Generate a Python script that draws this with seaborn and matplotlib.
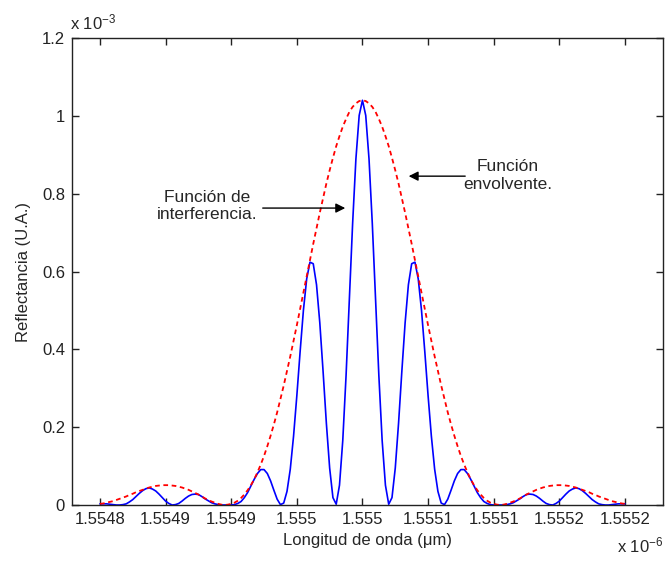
import matplotlib
matplotlib.use('Agg')
import matplotlib.pyplot as plt
import seaborn as sns

# wavelength samples (x 1e-6 m)
wavelength = [
    1.5548000, 1.5548025, 1.5548050, 1.5548075, 1.5548100, 1.5548125, 1.5548150, 1.5548175,
    1.5548200, 1.5548225, 1.5548250, 1.5548275, 1.5548300, 1.5548325, 1.5548350, 1.5548375,
    1.5548400, 1.5548425, 1.5548450, 1.5548475, 1.5548500, 1.5548525, 1.5548550, 1.5548575,
    1.5548600, 1.5548625, 1.5548650, 1.5548675, 1.5548700, 1.5548725, 1.5548750, 1.5548775,
    1.5548800, 1.5548825, 1.5548850, 1.5548875, 1.5548900, 1.5548925, 1.5548950, 1.5548975,
    1.5549000, 1.5549025, 1.5549050, 1.5549075, 1.5549100, 1.5549125, 1.5549150, 1.5549175,
    1.5549200, 1.5549225, 1.5549250, 1.5549275, 1.5549300, 1.5549325, 1.5549350, 1.5549375,
    1.5549400, 1.5549425, 1.5549450, 1.5549475, 1.5549500, 1.5549525, 1.5549550, 1.5549575,
    1.5549600, 1.5549625, 1.5549650, 1.5549675, 1.5549700, 1.5549725, 1.5549750, 1.5549775,
    1.5549800, 1.5549825, 1.5549850, 1.5549875, 1.5549900, 1.5549925, 1.5549950, 1.5549975,
    1.5550000,
    1.5550025, 1.5550050, 1.5550075, 1.5550100, 1.5550125, 1.5550150, 1.5550175, 1.5550200,
    1.5550225, 1.5550250, 1.5550275, 1.5550300, 1.5550325, 1.5550350, 1.5550375, 1.5550400,
    1.5550425, 1.5550450, 1.5550475, 1.5550500, 1.5550525, 1.5550550, 1.5550575, 1.5550600,
    1.5550625, 1.5550650, 1.5550675, 1.5550700, 1.5550725, 1.5550750, 1.5550775, 1.5550800,
    1.5550825, 1.5550850, 1.5550875, 1.5550900, 1.5550925, 1.5550950, 1.5550975, 1.5551000,
    1.5551025, 1.5551050, 1.5551075, 1.5551100, 1.5551125, 1.5551150, 1.5551175, 1.5551200,
    1.5551225, 1.5551250, 1.5551275, 1.5551300, 1.5551325, 1.5551350, 1.5551375, 1.5551400,
    1.5551425, 1.5551450, 1.5551475, 1.5551500, 1.5551525, 1.5551550, 1.5551575, 1.5551600,
    1.5551625, 1.5551650, 1.5551675, 1.5551700, 1.5551725, 1.5551750, 1.5551775, 1.5551800,
    1.5551825, 1.5551850, 1.5551875, 1.5551900, 1.5551925, 1.5551950, 1.5551975, 1.5552000,
]

# interference reflectance (x 1e-3)
interferencia = [
    0.003, 0.003, 0.003, 0.002, 0.001, 0.000, 0.000, 0.001,
    0.003, 0.008, 0.014, 0.022, 0.030, 0.037, 0.042, 0.044,
    0.041, 0.036, 0.028, 0.019, 0.010, 0.004, 0.000, 0.001,
    0.004, 0.010, 0.017, 0.023, 0.027, 0.028, 0.027, 0.022,
    0.016, 0.011, 0.006, 0.003, 0.001, 0.000, 0.000, 0.000,
    0.000, 0.001, 0.004, 0.009, 0.019, 0.032, 0.049, 0.066,
    0.081, 0.091, 0.091, 0.081, 0.062, 0.038, 0.015, 0.001,
    0.005, 0.035, 0.092, 0.177, 0.281, 0.394, 0.500, 0.581,
    0.624, 0.620, 0.566, 0.468, 0.343, 0.210, 0.095, 0.019,
    0.002, 0.051, 0.166, 0.332, 0.527, 0.723, 0.889, 1.001,
    1.040,
    1.001, 0.889, 0.723, 0.527, 0.332, 0.166, 0.051, 0.002,
    0.019, 0.095, 0.210, 0.343, 0.468, 0.566, 0.620, 0.624,
    0.581, 0.500, 0.394, 0.281, 0.177, 0.092, 0.035, 0.005,
    0.001, 0.015, 0.038, 0.062, 0.081, 0.091, 0.091, 0.081,
    0.066, 0.049, 0.032, 0.019, 0.009, 0.004, 0.001, 0.000,
    0.000, 0.000, 0.000, 0.001, 0.003, 0.006, 0.011, 0.016,
    0.022, 0.027, 0.028, 0.027, 0.023, 0.017, 0.010, 0.004,
    0.001, 0.000, 0.004, 0.010, 0.019, 0.028, 0.036, 0.041,
    0.044, 0.042, 0.037, 0.030, 0.022, 0.014, 0.008, 0.003,
    0.001, 0.000, 0.000, 0.001, 0.002, 0.003, 0.003, 0.003,
]

# envelope (x 1e-3)
envolvente = [
    0.003, 0.004, 0.006, 0.008, 0.010, 0.013, 0.016, 0.019,
    0.022, 0.026, 0.029, 0.033, 0.036, 0.039, 0.042, 0.045,
    0.047, 0.049, 0.050, 0.051, 0.051, 0.051, 0.050, 0.049,
    0.047, 0.045, 0.042, 0.039, 0.035, 0.031, 0.027, 0.022,
    0.017, 0.013, 0.009, 0.006, 0.003, 0.001, 0.000, 0.001,
    0.003, 0.006, 0.011, 0.018, 0.027, 0.038, 0.051, 0.066,
    0.084, 0.104, 0.126, 0.151, 0.178, 0.207, 0.238, 0.272,
    0.307, 0.344, 0.382, 0.422, 0.462, 0.504, 0.545, 0.587,
    0.629, 0.671, 0.711, 0.751, 0.789, 0.826, 0.860, 0.892,
    0.922, 0.948, 0.972, 0.992, 1.010, 1.023, 1.032, 1.038,
    1.040,
    1.038, 1.032, 1.023, 1.010, 0.992, 0.972, 0.948, 0.922,
    0.892, 0.860, 0.826, 0.789, 0.751, 0.711, 0.671, 0.629,
    0.587, 0.545, 0.504, 0.462, 0.422, 0.382, 0.344, 0.307,
    0.272, 0.238, 0.207, 0.178, 0.151, 0.126, 0.104, 0.084,
    0.066, 0.051, 0.038, 0.027, 0.018, 0.011, 0.006, 0.003,
    0.001, 0.000, 0.001, 0.003, 0.006, 0.009, 0.013, 0.017,
    0.022, 0.027, 0.031, 0.035, 0.039, 0.042, 0.045, 0.047,
    0.049, 0.050, 0.051, 0.051, 0.051, 0.050, 0.049, 0.047,
    0.045, 0.042, 0.039, 0.036, 0.033, 0.029, 0.026, 0.022,
    0.019, 0.016, 0.013, 0.010, 0.008, 0.006, 0.004, 0.003,
]

x_ticks = [1.55480, 1.55485, 1.55490, 1.55495, 1.55500, 1.55505, 1.55510, 1.55515, 1.55520]
x_ticklabels = ['1.5548', '1.5549', '1.5549', '1.555', '1.555', '1.5551', '1.5551', '1.5552', '1.5552']
y_ticks = [0, 0.2, 0.4, 0.6, 0.8, 1.0, 1.2]
y_ticklabels = ['0', '0.2', '0.4', '0.6', '0.8', '1', '1.2']

sns.set_style('ticks')
plt.rcParams['font.family'] = ['Liberation Sans', 'DejaVu Sans']
plt.rcParams['mathtext.default'] = 'regular'

fig = plt.figure(figsize=(6.65, 5.63), dpi=100)
ax = fig.add_axes([0.1083, 0.1030, 0.8887, 0.8295])

sns.lineplot(x=wavelength, y=interferencia, ax=ax, color='#0000ff', linewidth=1.2)
sns.lineplot(x=wavelength, y=envolvente, ax=ax, color='#ff0000', linewidth=1.3,
             linestyle=(0, (2.6, 2.0)))

ax.set_xlim(1.5547787, 1.5552290)
ax.set_ylim(0, 1.2)
ax.set_xticks(x_ticks)
ax.set_xticklabels(x_ticklabels)
ax.set_yticks(y_ticks)
ax.set_yticklabels(y_ticklabels)
ax.tick_params(direction='in', top=True, right=True, length=5, width=1,
               labelsize=12, pad=5, colors='#222222')
for s in ax.spines.values():
    s.set_linewidth(1.0)
    s.set_color('#222222')

ax.set_xlabel('Longitud de onda (μm)', fontsize=12)
ax.set_ylabel('Reflectancia (U.A.)', fontsize=12)
ax.xaxis.set_label_coords(0.5, -0.060)
ax.yaxis.set_label_coords(-0.070, 0.5)

fig.text(0.106, 0.948, r'x 10$^{-3}$', fontsize=12, ha='left', va='baseline')
fig.text(0.928, 0.019, r'x 10$^{-6}$', fontsize=12, ha='left', va='baseline')

arrow = dict(arrowstyle='-|>', color='black', lw=1.0, mutation_scale=14)
ax.annotate('', xy=(1.5549890, 0.763), xytext=(1.5549219, 0.763), arrowprops=arrow)
ax.annotate('', xy=(1.5550331, 0.845), xytext=(1.5550804, 0.845), arrowprops=arrow)
ax.text(1.5548815, 0.768, 'Función de\ninterferencia.', fontsize=12.5,
        ha='center', va='center', multialignment='center')
ax.text(1.5551109, 0.847, 'Función\nenvolvente.', fontsize=12.5,
        ha='center', va='center', multialignment='center')

fig.savefig('out.png', dpi=100)
